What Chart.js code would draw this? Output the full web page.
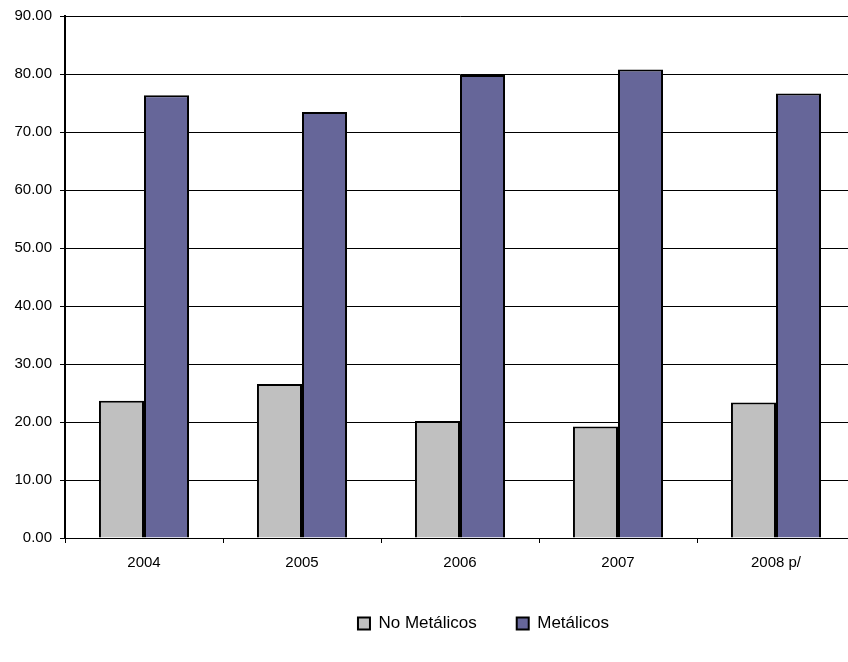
<!DOCTYPE html>
<html>
<head>
<meta charset="utf-8">
<script src="https://cdn.jsdelivr.net/npm/chart.js@4/dist/chart.umd.min.js"></script>
<style>
  html, body { margin: 0; padding: 0; background: #fff; overflow: hidden; }
  #wrap { width: 860px; height: 662px; }
</style>
</head>
<body>
<div id="wrap"><canvas id="chart" width="860" height="662"></canvas></div>
<script>
const years = ["2004", "2005", "2006", "2007", "2008 p/"];
const noMetalicos = [23.67, 26.55, 20.17, 19.24, 23.38];
const metalicos = [76.33, 73.45, 79.83, 80.76, 76.62];
const yTicks = [0, 10, 20, 30, 40, 50, 60, 70, 80, 90];

const font = "Liberation Sans, Arial, sans-serif";

// legend sits a bit right of centre in the original
const legendShift = {
  id: "legendShift",
  afterLayout(chart) {
    chart.legend.left += 56;
    chart.legend.right += 56;
  },
};

const ctx = document.getElementById("chart").getContext("2d");

new Chart(ctx, {
  type: "bar",
  data: {
    labels: years,
    datasets: [
      {
        label: "No Metálicos",
        data: noMetalicos,
        backgroundColor: "#c0c0c0",
        borderColor: "#000",
        borderWidth: 2,
      },
      {
        label: "Metálicos",
        data: metalicos,
        backgroundColor: "#666699",
        borderColor: "#000",
        borderWidth: 2,
      },
    ],
  },
  options: {
    responsive: false,
    animation: false,
    categoryPercentage: 0.57,
    barPercentage: 1,
    layout: { padding: { left: 0, right: 5, top: 16, bottom: 20 } },
    plugins: {
      tooltip: { enabled: false },
      legend: {
        position: "bottom",
        labels: {
          font: { family: font, size: 17 },
          color: "#000",
          boxWidth: 12,
          boxHeight: 12,
          padding: 40,
        },
      },
    },
    scales: {
      x: {
        grid: { drawOnChartArea: false, drawTicks: true, tickLength: 5, color: "#000" },
        border: { color: "#000", width: 1 },
        ticks: { color: "#000", font: { family: font, size: 15 }, padding: 11 },
        afterFit: (s) => { s.height = 37; },
      },
      y: {
        min: 0,
        max: 90,
        afterBuildTicks: (s) => { s.ticks = yTicks.map((v) => ({ value: v })); },
        grid: { color: "#000", lineWidth: 1, tickLength: 5 },
        border: { color: "#000", width: 2 },
        ticks: {
          color: "#000",
          font: { family: font, size: 15 },
          padding: 8,
          callback: (v) => v.toFixed(2),
        },
        afterFit: (s) => {
          s.width = 65;
          s.paddingTop = 0;
        },
      },
    },
  },
  plugins: [legendShift],
});
</script>
</body>
</html>
